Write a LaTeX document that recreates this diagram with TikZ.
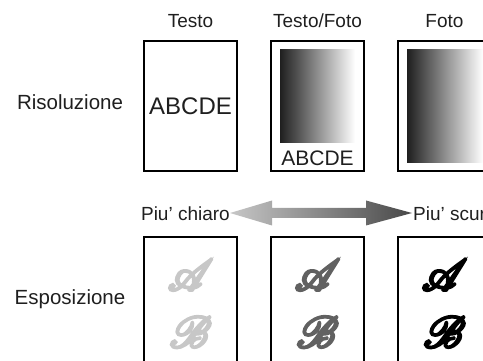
\documentclass[tikz,border=0pt]{standalone}
\usepackage{fontspec}
\setmainfont{Liberation Sans}
\usepackage{mathrsfs}
\usetikzlibrary{positioning,calc}
\colorlet{ink}{black!88}
\colorlet{faint}{black!22}
\colorlet{medium}{black!62}
\tikzstyle{page}=[draw=black,line width=2pt,minimum width=93pt,minimum
height=130pt,inner sep=0pt]
\tikzstyle{lbl}=[text=ink,font=\fontsize{19}{20}\selectfont,inner sep=0pt]
\tikzstyle{side}=[text=ink,font=\fontsize{20.5}{22}\selectfont,inner sep=0pt]
\tikzstyle{photo}=[left color=black!88,right color=white]
\tikzstyle{script}=[font=\fontsize{10}{10}\selectfont,inner sep=0pt]
% thick brush stroke: fill and outline the glyph, then blow it up
\newcommand{\brush}[1]{\scalebox{4.4}{\special{pdf:literal direct q 2 Tr 0.62 w}$\mathscr{#1}$\special{pdf:literal direct Q}}}

\begin{document}
\begin{tikzpicture}[x=1pt, y=-1pt, >=stealth, node distance=127pt, on grid]
  \useasboundingbox (0,0) rectangle (483,361);
  \clip (0,0) rectangle (483,361);

  % top row
  \node[page] (t1) at (190.5,106) {};
  \node[page, right=of t1] (t2) {};
  \node[page, right=of t2] (t3) {};
  % bottom row
  \node[page, below=196pt of t1] (e1) {};
  \node[page, right=of e1] (e2) {};
  \node[page, right=of e2] (e3) {};

  \node[lbl, anchor=base] (testo) at (t1.north |- 0,28) {Testo};
  \node[lbl, anchor=base] (misto) at (t2.north |- 0,28) {Testo/Foto};
  \node[lbl, anchor=base] (foto) at (t3.north |- 0,28) {Foto};

  \node[side, anchor=base] (res) at (70,110) {Risoluzione};
  \node[side, anchor=base] (esp) at (70,305) {Esposizione};

  % contents of the pages
  \node[text=ink, font=\fontsize{24}{24}\selectfont, inner sep=0pt] (abc1)
    at (t1) {ABCDE};
  \shade[photo] ($(t2.north west)+(10,10)$) rectangle ++(75,93);
  \node[text=ink, font=\fontsize{21}{21}\selectfont, inner sep=0pt] (abc2)
    at ($(t2.south)+(0,-14)$) {ABCDE};
  \shade[photo] ($(t3.north west)+(10,10)$) rectangle ++(76,113);

  % lighter / darker arrow
  \coordinate (lt) at (230,213);
  \coordinate (rt) at (412,213);
  \node[lbl, anchor=base east] (chiaro) at ($(lt)+(0,8)$) {Piu’ chiaro};
  \node[lbl, anchor=base west] (scuro) at ($(rt)+(1,8)$) {Piu’ scuro};
  \shade[left color=black!22, right color=black!72]
    (lt) -- ($(lt)+(42,-12.5)$) -- ($(lt)+(42,-5)$) -- ($(rt)+(-46,-5)$)
    -- ($(rt)+(-46,-12.5)$) -- (rt) -- ($(rt)+(-46,12.5)$)
    -- ($(rt)+(-46,5)$) -- ($(lt)+(42,5)$) -- ($(lt)+(42,12.5)$) -- cycle;

  \foreach \b/\c in {e1/faint, e2/medium, e3/black} {
    \node[script, text=\c] (\b A) at ($(\b.north)+(0,39)$) {\brush{A}};
    \node[script, text=\c] (\b B) at ($(\b.north)+(0,96)$) {\brush{B}};
  }
\end{tikzpicture}
\end{document}
